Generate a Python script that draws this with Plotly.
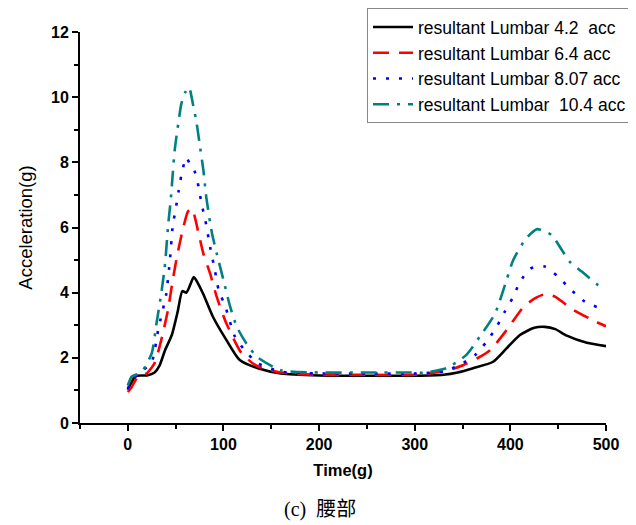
import plotly.graph_objects as go

# time (ms) / acceleration (g)
t_42 = [0, 3, 8, 20, 28, 33, 39, 46, 52, 57, 61, 64, 69, 74, 79, 89, 103, 117, 136, 160, 200,
        250, 300, 330, 345, 361, 382, 396, 410, 425, 436, 447, 459, 480, 500]
acc_42 = [1.02, 1.2, 1.44, 1.46, 1.55, 1.75, 2.24, 2.7, 3.4, 4.05, 4.0, 4.15, 4.48, 4.25, 3.95,
          3.26, 2.55, 1.93, 1.68, 1.52, 1.46, 1.45, 1.45, 1.48, 1.55, 1.68, 1.88, 2.29, 2.7,
          2.92, 2.95, 2.88, 2.68, 2.46, 2.36]

t_64 = [0, 4, 10, 20, 28, 35, 42, 47, 52, 58, 63, 67, 74, 79, 86, 93, 103, 119, 135, 160, 200,
        250, 300, 333, 351, 365, 379, 396, 414, 427, 437, 447, 466, 490, 500]
acc_64 = [0.95, 1.1, 1.4, 1.53, 1.84, 2.55, 3.47, 4.39, 5.2, 6.0, 6.5, 6.58, 5.82, 5.2, 4.59,
          3.87, 3.06, 2.14, 1.75, 1.55, 1.48, 1.48, 1.48, 1.6, 1.78, 1.98, 2.24, 2.85, 3.57,
          3.85, 3.96, 3.87, 3.47, 3.1, 2.97]

t_807 = [0, 4, 12, 25, 32, 40, 44, 47, 50, 53, 56, 61, 65, 69, 74, 77, 81, 86, 91, 95, 102,
         112, 122, 136, 160, 200, 250, 300, 330, 347, 363, 375, 386, 394, 403, 410, 421, 436,
         450, 462, 478, 494, 500]
acc_807 = [1.05, 1.3, 1.52, 1.88, 2.9, 3.93, 5.0, 6.07, 6.55, 7.1, 7.6, 8.15, 7.95, 7.8, 7.25,
           6.74, 6.23, 5.41, 4.69, 4.08, 3.57, 2.65, 2.24, 1.83, 1.58, 1.52, 1.52, 1.52, 1.58,
           1.78, 2.08, 2.49, 2.97, 3.41, 3.87, 4.33, 4.74, 4.8, 4.49, 4.13, 3.72, 3.52, 3.45]

t_104 = [0, 4, 10, 16, 25, 30, 35, 39, 42, 45, 47, 49, 53, 56, 60, 64, 68, 72, 75, 79, 82, 88,
         93, 100, 107, 114, 124, 135, 160, 200, 250, 300, 309, 333, 354, 368, 384, 396, 403,
         416, 428, 443, 454, 462, 475, 492, 500]
acc_104 = [1.15, 1.42, 1.5, 1.63, 2.14, 3.06, 3.98, 4.9, 6.02, 6.89, 7.66, 8.37, 9.24, 9.8,
           10.15, 10.3, 9.8, 9.19, 8.58, 7.76, 6.94, 5.82, 5.2, 4.39, 3.57, 2.95, 2.44, 2.03,
           1.62, 1.55, 1.55, 1.55, 1.54, 1.68, 2.09, 2.65, 3.36, 4.39, 5.0, 5.65, 5.95, 5.77,
           5.3, 4.95, 4.64, 4.23, 4.15]

names = ["resultant Lumbar 4.2\u00a0 acc", "resultant Lumbar 6.4 acc",
         "resultant Lumbar 8.07 acc", "resultant Lumbar\u00a0 10.4 acc"]
colors = ["#000000", "#ff0000", "#0000ff", "#008080"]
dashes = ["solid", "16px,10px", "3px,10px", "16px,8px,3px,8px"]

fig = go.Figure()
for t, a, name, c, d in zip([t_42, t_64, t_807, t_104], [acc_42, acc_64, acc_807, acc_104],
                            names, colors, dashes):
    fig.add_trace(go.Scatter(x=t, y=a, name=name, mode="lines",
                             line=dict(color=c, width=2.6, dash=d, shape="spline", smoothing=0.6)))

# page body adds an 8px margin, so the figure is sized to fit the 636x525 window
axis_font = dict(family="Liberation Sans", size=16, color="black", weight="bold")
fig.update_xaxes(range=[-50, 500], showgrid=False, zeroline=False, showline=True,
                 linecolor="black", linewidth=2, ticks="outside", ticklen=6, tickwidth=2,
                 tickcolor="black", dtick=100, tick0=0, tickfont=axis_font,
                 minor=dict(ticks="outside", ticklen=4, tickwidth=2, dtick=50, tick0=0,
                            tickcolor="black"),
                 title=dict(text="<b>Time(g)</b>", font=dict(family="Liberation Sans", size=16.5),
                            standoff=12))
fig.update_yaxes(range=[0, 12], showgrid=False, zeroline=False, showline=True,
                 linecolor="black", linewidth=2, ticks="outside", ticklen=6, tickwidth=2,
                 tickcolor="black", dtick=2, tickfont=axis_font,
                 minor=dict(ticks="outside", ticklen=4, tickwidth=2, dtick=1, tickcolor="black"),
                 title=dict(text="Acceleration(g)", font=dict(family="Liberation Sans", size=18.5),
                            standoff=14))

fig.update_layout(
    width=628, height=517,
    margin=dict(l=72, r=30, t=24, b=102, autoexpand=False),
    plot_bgcolor="white", paper_bgcolor="white",
    font=dict(family="Liberation Sans", color="black"),
    legend=dict(x=0.5456, y=1.061, xanchor="left", yanchor="top", itemwidth=40,
                bordercolor="#888888", borderwidth=1, bgcolor="white",
                font=dict(family="Liberation Sans", size=17.5), tracegroupgap=0),
    annotations=[dict(text="(c)  腰部", x=0.456, y=-0.2225, xref="paper", yref="paper",
                      showarrow=False, yanchor="middle",
                      font=dict(family="Liberation Serif, Noto Sans CJK SC", size=20))],
)

fig.write_html("out.html")
